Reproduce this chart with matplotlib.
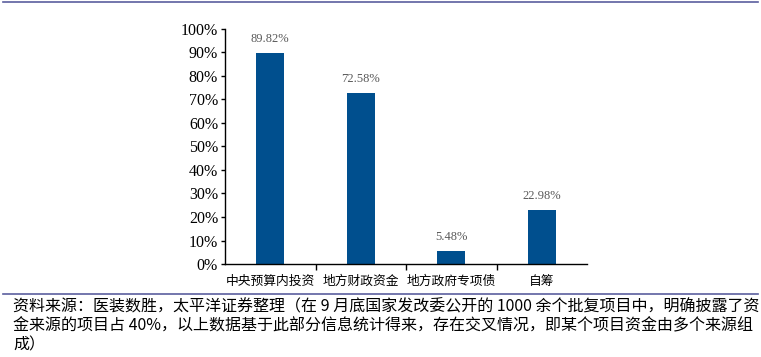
import matplotlib.pyplot as plt
import numpy as np
from matplotlib.lines import Line2D

plt.rcParams['font.family'] = ['Noto Sans CJK SC', 'DejaVu Sans']

categories = ['中央预算内投资', '地方财政资金', '地方政府专项债', '自筹']
values = [89.82, 72.58, 5.48, 22.98]
yticks = [0, 10, 20, 30, 40, 50, 60, 70, 80, 90, 100]
note = ['资料来源：医装数胜，太平洋证券整理（在 9 月底国家发改委公开的 1000 余个批复项目中，明确披露了资',
        '金来源的项目占 40%，以上数据基于此部分信息统计得来，存在交叉情况，即某个项目资金由多个来源组',
        '成）']

fig = plt.figure(figsize=(7.61, 3.57), dpi=100)
ax = fig.add_axes([0.2957, 0.2605, 0.4757, 0.6583])

x = np.arange(len(categories))
ax.bar(x, values, width=0.31, color='#004F8E', zorder=2)
for xi, v in zip(x, values):
    ax.text(xi, v + 3.5, '%.2f%%' % v, ha='center', va='bottom',
            fontsize=9, color='#595959', family='Liberation Serif')

ax.set_xlim(-0.5, 3.5)
ax.set_ylim(0, 100)
ax.set_yticks(yticks)
ax.set_yticklabels(['%d%%' % t for t in yticks], family='Liberation Serif', fontsize=11.5)
ax.tick_params(axis='y', direction='out', length=3, width=1, pad=2)

ax.set_xticks([0.5, 1.5, 2.5])
ax.set_xticklabels([])
ax.tick_params(axis='x', which='major', direction='out', length=4, width=1)
ax.set_xticks(x, minor=True)
ax.set_xticklabels(categories, minor=True, fontsize=9.2)
ax.tick_params(axis='x', which='minor', length=0, pad=8)

for s in ['top', 'right']:
    ax.spines[s].set_visible(False)
ax.spines['left'].set_linewidth(1)
ax.spines['bottom'].set_linewidth(1)

# top and bottom rules
fig.add_artist(Line2D([0.004, 0.996], [0.993, 0.993], color='#5B5F9E', lw=1.2))
fig.add_artist(Line2D([0.004, 0.996], [1 - 294 / 357, 1 - 294 / 357], color='#5B5F9E', lw=1.2))

for i, line in enumerate(note):
    fig.text(13 / 761, 1 - (307 + 19 * i) / 357, line, fontsize=11.5,
             va='center', ha='left')

plt.savefig('out.png', dpi=100)
